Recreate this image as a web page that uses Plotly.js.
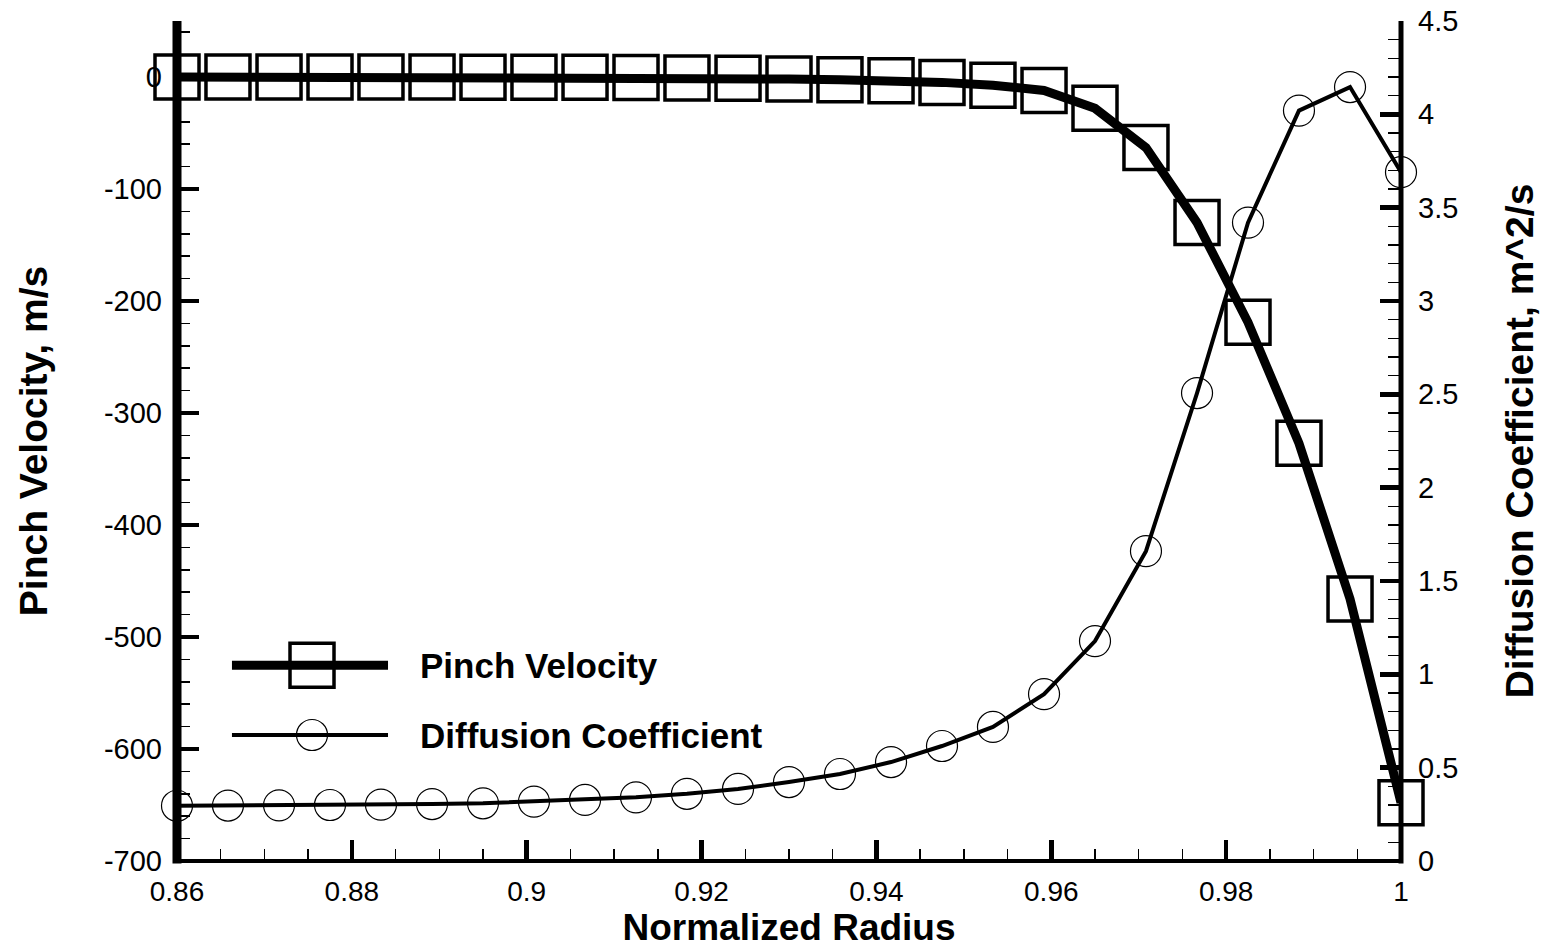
<!DOCTYPE html>
<html>
<head>
<meta charset="utf-8">
<script src="https://cdn.plot.ly/plotly-3.0.1.min.js"></script>
<style>
  html, body { margin: 0; padding: 0; background: #ffffff; }
  #chart { width: 1541px; height: 948px; }
</style>
</head>
<body>
<div id="chart"></div>
<script>
// Normalized radius of each sample point
const radius = [
  0.86000, 0.86583, 0.87167, 0.87750, 0.88333, 0.88917, 0.89500, 0.90083,
  0.90667, 0.91250, 0.91833, 0.92417, 0.93000, 0.93583, 0.94167, 0.94750,
  0.95333, 0.95917, 0.96500, 0.97083, 0.97667, 0.98250, 0.98833, 0.99417,
  1.00000
];

// Pinch velocity, m/s (left axis)
const pinchVelocity = [
  0, -0.02, -0.03, -0.05, -0.07, -0.1, -0.15, -0.22,
  -0.32, -0.5, -0.8, -1.2, -1.8, -2.5, -3.4, -4.8,
  -7.3, -12, -28, -63, -130, -219, -327, -466,
  -648
];

// Diffusion coefficient, m^2/s (right axis)
const diffusionCoeff = [
  0.296, 0.297, 0.298, 0.300, 0.302, 0.305, 0.309, 0.318,
  0.327, 0.341, 0.360, 0.386, 0.423, 0.466, 0.530, 0.616,
  0.718, 0.894, 1.178, 1.660, 2.507, 3.420, 4.020, 4.146,
  3.690
];

// Tick values and labels
const xTickVals = [0.86, 0.88, 0.90, 0.92, 0.94, 0.96, 0.98, 1.00];
const xTickText = ['0.86', '0.88', '0.9', '0.92', '0.94', '0.96', '0.98', '1'];
const yTickVals = [-700, -600, -500, -400, -300, -200, -100, 0];
const yTickText = ['-700', '-600', '-500', '-400', '-300', '-200', '-100', '0'];
const y2TickVals = [0, 0.5, 1, 1.5, 2, 2.5, 3, 3.5, 4, 4.5];
const y2TickText = ['0', '0.5', '1', '1.5', '2', '2.5', '3', '3.5', '4', '4.5'];

// Series names
const seriesNames = ['Pinch Velocity', 'Diffusion Coefficient'];

const FONT = 'Liberation Sans, Arial, Helvetica, sans-serif';
const tickFont = { family: FONT, size: 29, color: '#000' };
const titleFont = { family: FONT, size: 39, color: '#000', weight: 'bold' };

const traces = [
  {
    x: radius, y: pinchVelocity, name: seriesNames[0],
    type: 'scatter', mode: 'lines+markers', yaxis: 'y', cliponaxis: false,
    line: { color: '#000', width: 9 },
    marker: { symbol: 'square-open', size: 44, color: '#000', line: { color: '#000', width: 3.5 } },
    showlegend: false, hoverinfo: 'skip'
  },
  {
    x: radius, y: diffusionCoeff, name: seriesNames[1],
    type: 'scatter', mode: 'lines+markers', yaxis: 'y2', cliponaxis: false,
    line: { color: '#000', width: 4 },
    marker: { symbol: 'circle-open', size: 31, color: '#000', line: { color: '#000', width: 1.2 } },
    showlegend: false, hoverinfo: 'skip'
  }
];

// Hand-drawn legend: sample line, marker and label per series
const legendRows = [
  { y: 0.233, lineWidth: 9, shape: 'rect', half: 22, markerWidth: 3.5 },
  { y: 0.150, lineWidth: 4, shape: 'circle', half: 15.5, markerWidth: 1.2 }
];
const legendLineX = [0.0449, 0.1724];
const legendMarkerX = 0.1103;
const legendTextX = 0.1969;

const shapes = [
  // axis lines
  { type: 'line', xref: 'paper', yref: 'paper', x0: 0, x1: 0, y0: -0.003, y1: 1, line: { color: '#000', width: 9 }, layer: 'above' },
  { type: 'line', xref: 'paper', yref: 'paper', x0: 1, x1: 1, y0: -0.003, y1: 1, line: { color: '#000', width: 5 }, layer: 'above' },
  { type: 'line', xref: 'paper', yref: 'paper', x0: 0, x1: 1, y0: 0, y1: 0, line: { color: '#000', width: 4 }, layer: 'above' }
];
const annotations = [];
legendRows.forEach(function (row, i) {
  shapes.push({
    type: 'line', xref: 'paper', yref: 'paper',
    x0: legendLineX[0], x1: legendLineX[1], y0: row.y, y1: row.y,
    line: { color: '#000', width: row.lineWidth }, layer: 'above'
  });
  shapes.push({
    type: row.shape, xref: 'paper', yref: 'paper',
    xsizemode: 'pixel', xanchor: legendMarkerX, x0: -row.half, x1: row.half,
    ysizemode: 'pixel', yanchor: row.y, y0: -row.half, y1: row.half,
    line: { color: '#000', width: row.markerWidth }, fillcolor: 'rgba(0,0,0,0)', layer: 'above'
  });
  annotations.push({
    text: seriesNames[i], xref: 'paper', yref: 'paper',
    x: legendTextX, y: row.y, xanchor: 'left', yanchor: 'middle',
    showarrow: false, font: { family: FONT, size: 35, color: '#000', weight: 'bold' }
  });
});

const layout = {
  width: 1541, height: 948,
  margin: { l: 177, r: 140, t: 21, b: 87, pad: 0 },
  paper_bgcolor: '#fff', plot_bgcolor: '#fff',
  showlegend: false,
  xaxis: {
    range: [0.86, 1.0], showgrid: false, zeroline: false, showline: false,
    tickmode: 'array', tickvals: xTickVals, ticktext: xTickText,
    ticks: 'inside', ticklen: 21, tickwidth: 4.5, tickcolor: '#000',
    minor: { tickmode: 'linear', tick0: 0.86, dtick: 0.005, ticks: 'inside', ticklen: 12, tickwidth: 1.5, tickcolor: '#000', showgrid: false },
    tickfont: { family: FONT, size: 28, color: '#000' }, ticklabelstandoff: 11,
    title: { text: 'Normalized Radius', font: { family: FONT, size: 37, color: '#000', weight: 'bold' }, standoff: 3 }
  },
  yaxis: {
    range: [-700, 50], showgrid: false, zeroline: false, showline: false,
    tickmode: 'array', tickvals: yTickVals, ticktext: yTickText,
    ticks: 'inside', ticklen: 22, tickwidth: 4, tickcolor: '#000',
    minor: { tickmode: 'linear', tick0: 0, dtick: 20, ticks: 'inside', ticklen: 13, tickwidth: 1.5, tickcolor: '#000', showgrid: false },
    tickfont: tickFont, ticklabelstandoff: 14,
    title: { text: 'Pinch Velocity, m/s', font: titleFont, standoff: 44 }
  },
  yaxis2: {
    range: [0, 4.5], overlaying: 'y', side: 'right',
    showgrid: false, zeroline: false, showline: false,
    tickmode: 'array', tickvals: y2TickVals, ticktext: y2TickText,
    ticks: 'inside', ticklen: 21, tickwidth: 4.5, tickcolor: '#000',
    minor: { tickmode: 'linear', tick0: 0, dtick: 0.1, ticks: 'inside', ticklen: 13, tickwidth: 1.5, tickcolor: '#000', showgrid: false },
    tickfont: tickFont, ticklabelstandoff: 16,
    title: { text: 'Diffusion Coefficient, m^2/s', font: titleFont, standoff: 50 }
  },
  shapes: shapes,
  annotations: annotations
};

Plotly.newPlot('chart', traces, layout, { displayModeBar: false, staticPlot: true });
</script>
</body>
</html>
